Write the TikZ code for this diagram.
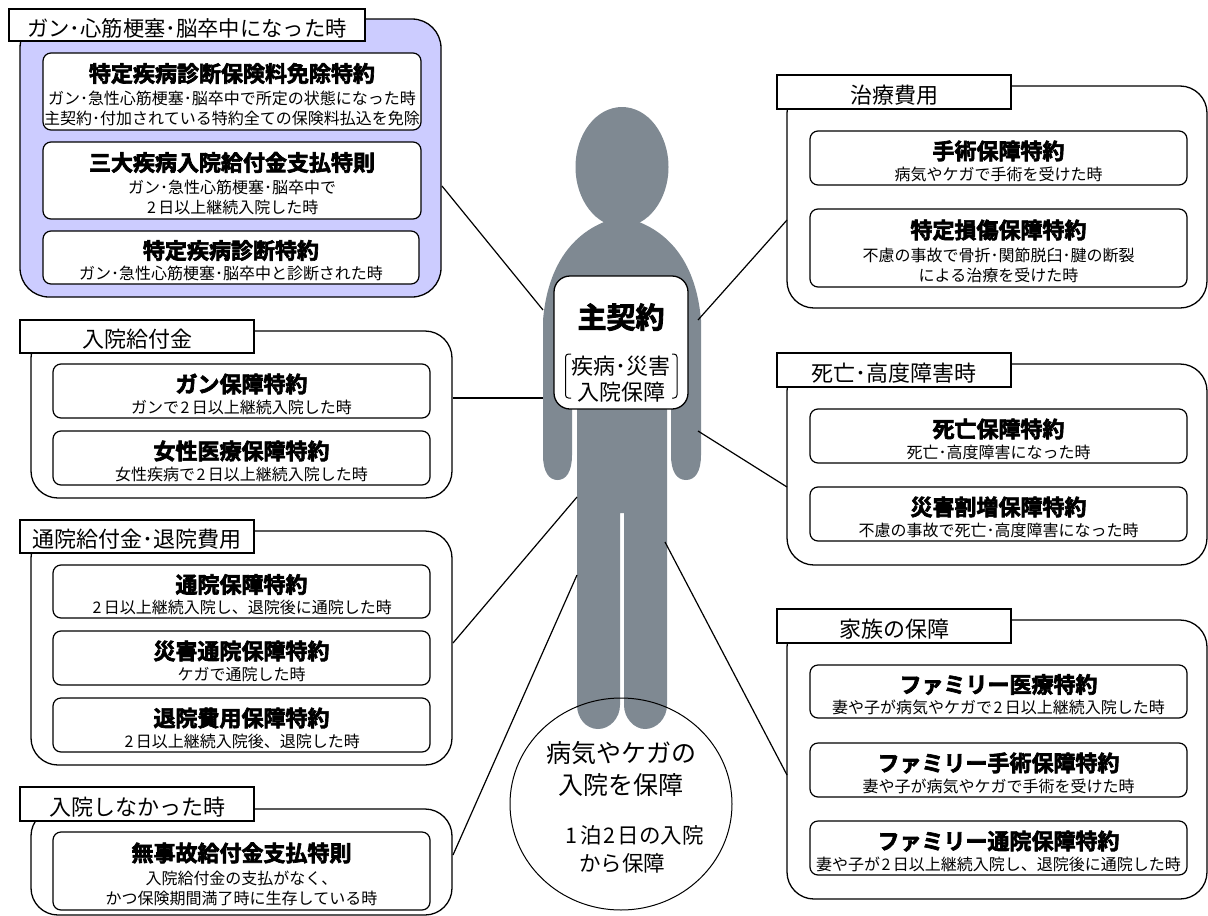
\documentclass[tikz,border=0pt]{standalone}
\usepackage{fontspec}
\usetikzlibrary{shapes.geometric}
\setmainfont{Noto Sans CJK JP}[BoldFont={Noto Sans CJK JP Bold},BoldFeatures={FakeBold=3}]
\definecolor{figgray}{HTML}{7F8992}
\definecolor{panelblue}{HTML}{CCCCFF}
\newcommand\ttl[1]{{\rule{0pt}{25pt}\fontsize{22}{24}\selectfont\bfseries #1}}
\newcommand\dg[1]{\hspace{1.5pt}#1\hspace{2.5pt}}
\newcommand\tg{\rule{0pt}{24pt}}
\tikzset{
  px/.style={x=1pt,y=-1pt},
  panel/.style={draw=black,line width=1.3pt,rounded corners=27pt,inner sep=0pt},
  bluepanel/.style={panel,fill=panelblue,rounded corners=29pt},
  tagbox/.style={draw=black,line width=1.3pt,fill=white,inner sep=0pt,font=\fontsize{22}{24}\selectfont},
  itembox/.style={draw=black,line width=1.2pt,fill=white,rounded corners=8pt,inner sep=0pt,align=center,font=\fontsize{16}{20}\selectfont},
  link/.style={draw=black,line width=1.2pt},
  mainbox/.style={draw=black,line width=1.3pt,fill=white,rounded corners=16pt,inner sep=0pt,align=center,font=\fontsize{22}{26}\selectfont},
  circtext/.style={inner sep=0pt,align=center}
}
% style, name, x1, y1, x2, y2, text
\newcommand\bx[7]{\node[#1,minimum width={(#5-#3)*1pt},minimum height={(#6-#4)*1pt}] (#2) at ({(#3+#5)/2},{(#4+#6)/2}) {#7};}
\begin{document}
\begin{tikzpicture}[px]
\useasboundingbox (0,0) rectangle (1208,916);
% figure
\fill[figgray] (622,167) ellipse [x radius=46.5,y radius=60];
\fill[figgray] (604,222) .. controls (575,234) and (548,262) .. (543,320) -- (543,455)
  .. controls (543,472) and (549,480) .. (557.5,480) .. controls (566,480) and (572,472) .. (572,455)
  -- (572,400) -- (577,400) -- (577,705) .. controls (577,718) and (586,729) .. (598,729)
  .. controls (610,729) and (620,718) .. (620,705) -- (620,513) -- (624,513) -- (624,705)
  .. controls (624,718) and (634,729) .. (645,729) .. controls (657,729) and (667,718) .. (667,705)
  -- (667,400) -- (671,400) -- (671,455) .. controls (671,472) and (677,480) .. (686,480)
  .. controls (695,480) and (701,472) .. (701,455) -- (701,320)
  .. controls (696,262) and (669,234) .. (639,222) -- cycle;
% main box
\bx{mainbox}{main}{554}{276}{688}{409}{{\rule{0pt}{45pt}\fontsize{29}{30}\selectfont\bfseries 主契約}\\[20pt]疾病･災害\\入院保障}
\draw[line width=1pt,rounded corners=3pt] (571,354) -- (565.5,354) -- (565.5,398) -- (571,398);
\draw[line width=1pt,rounded corners=3pt] (672,354) -- (677,354) -- (677,398) -- (672,398);
% circle
\node[draw=black,line width=1pt,ellipse,minimum width=222pt,minimum height=212pt,inner sep=0pt] (circ) at (621,804) {};
\node[circtext,font=\fontsize{25}{32}\selectfont] (c1) at (621,769) {病気やケガの\\入院を保障};
\node[circtext,font=\fontsize{21.5}{28}\selectfont] (c2) at (634,835) {\dg{1}泊\dg{2}日の入院};
\node[circtext,font=\fontsize{21.5}{28}\selectfont] (c3) at (622,863) {から保障};
% panels
\bx{bluepanel}{p1}{20}{19}{441}{297}{}
\bx{panel}{p2}{31}{331}{452}{498}{}
\bx{panel}{p3}{31}{531}{452}{765}{}
\bx{panel}{p4}{31}{809}{452}{915}{}
\bx{panel}{pa}{787}{86}{1207}{308}{}
\bx{panel}{pb}{787}{364}{1207}{565}{}
\bx{panel}{pc}{787}{620}{1207}{899}{}
% tags
\bx{tagbox}{t1}{9}{9}{365}{41}{\tg\fontsize{21.3}{24}\selectfont ガン･心筋梗塞･脳卒中になった時}
\bx{tagbox}{t2}{20}{320}{254}{353}{\tg 入院給付金}
\bx{tagbox}{t3}{20}{520}{254}{553}{\tg 通院給付金･退院費用}
\bx{tagbox}{t4}{20}{787}{254}{821}{\tg 入院しなかった時}
\bx{tagbox}{ta}{777}{75}{1011}{109}{\tg 治療費用}
\bx{tagbox}{tb}{777}{353}{1011}{387}{\tg 死亡･高度障害時}
\bx{tagbox}{tc}{777}{609}{1011}{643}{\tg 家族の保障}
% items
\bx{itembox}{i11}{43}{53}{421}{130}{\ttl{特定疾病診断保険料免除特約}\\[3pt]ガン･急性心筋梗塞･脳卒中で所定の状態になった時\\主契約･付加されている特約全ての保険料払込を免除}
\bx{itembox}{i12}{43}{142}{421}{219}{\ttl{三大疾病入院給付金支払特則}\\[3pt]ガン･急性心筋梗塞･脳卒中で\\\dg{2}日以上継続入院した時}
\bx{itembox}{i13}{43}{231}{419}{284}{\ttl{特定疾病診断特約}\\[1pt]ガン･急性心筋梗塞･脳卒中と診断された時}
\bx{itembox}{i21}{53}{364}{430}{418}{\ttl{ガン保障特約}\\[1pt]ガンで\dg{2}日以上継続入院した時}
\bx{itembox}{i22}{53}{431}{430}{485}{\ttl{女性医療保障特約}\\[1pt]女性疾病で\dg{2}日以上継続入院した時}
\bx{itembox}{i31}{53}{565}{430}{618}{\ttl{通院保障特約}\\[1pt]\dg{2}日以上継続入院し、退院後に通院した時}
\bx{itembox}{i32}{53}{631}{430}{685}{\ttl{災害通院保障特約}\\[1pt]ケガで通院した時}
\bx{itembox}{i33}{53}{698}{430}{752}{\ttl{退院費用保障特約}\\[1pt]\dg{2}日以上継続入院後、退院した時}
\bx{itembox}{i41}{53}{832}{430}{910}{\ttl{無事故給付金支払特則}\\[3pt]入院給付金の支払がなく、\\かつ保険期間満了時に生存している時}
\bx{itembox}{ia1}{810}{131}{1187}{185}{\ttl{手術保障特約}\\[1pt]病気やケガで手術を受けた時}
\bx{itembox}{ia2}{810}{209}{1187}{287}{\ttl{特定損傷保障特約}\\[3pt]不慮の事故で骨折･関節脱臼･腱の断裂\\による治療を受けた時}
\bx{itembox}{ib1}{810}{409}{1187}{463}{\ttl{死亡保障特約}\\[1pt]死亡･高度障害になった時}
\bx{itembox}{ib2}{810}{487}{1187}{541}{\ttl{災害割増保障特約}\\[1pt]不慮の事故で死亡･高度障害になった時}
\bx{itembox}{ic1}{810}{665}{1187}{718}{\ttl{ファミリー医療特約}\\[1pt]妻や子が病気やケガで\dg{2}日以上継続入院した時}
\bx{itembox}{ic2}{810}{743}{1187}{797}{\ttl{ファミリー手術保障特約}\\[1pt]妻や子が病気やケガで手術を受けた時}
\bx{itembox}{ic3}{810}{821}{1187}{875}{\ttl{ファミリー通院保障特約}\\[1pt]妻や子が\dg{2}日以上継続入院し、退院後に通院した時}
% connector ends
\coordinate (e1) at (442,186); \coordinate (b1) at (543,310);
\coordinate (e2) at (453,398); \coordinate (b2) at (543,398);
\coordinate (e3) at (453,643); \coordinate (b3) at (577,497);
\coordinate (e4) at (453,855); \coordinate (b4) at (577,575);
\coordinate (ea) at (787,220); \coordinate (ba) at (698,320);
\coordinate (eb) at (787,487); \coordinate (bb) at (698,431);
\coordinate (ec) at (787,775); \coordinate (bc) at (665,542);
\draw[link] (e1) -- (b1);
\draw[link] (e2) -- (b2);
\draw[link] (e3) -- (b3);
\draw[link] (e4) -- (b4);
\draw[link] (ea) -- (ba);
\draw[link] (eb) -- (bb);
\draw[link] (ec) -- (bc);
\end{tikzpicture}
\end{document}
